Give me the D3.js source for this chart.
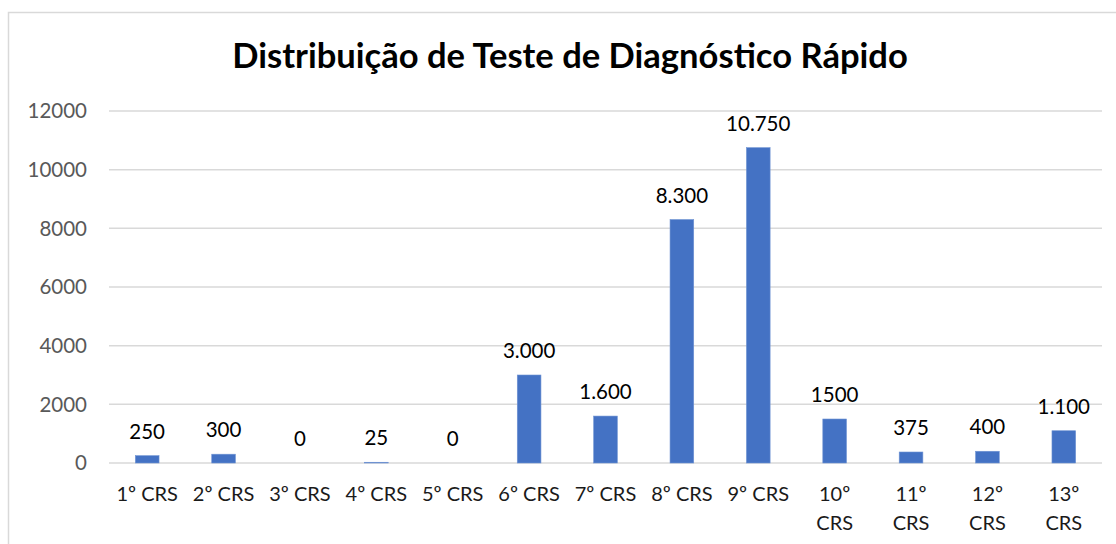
<!DOCTYPE html>
<html>
<head>
  <meta charset="utf-8">
  <title>Distribuição de Teste de Diagnóstico Rápido</title>
  <script src="https://d3js.org/d3.v7.min.js"></script>
  <style>
    body { margin: 0; background: #fff; }
    text { font-family: Lato, "Liberation Sans", sans-serif; }
    .grid line { stroke: #d9d9d9; stroke-width: 1.5px; }
    .ytick { fill: #595959; font-size: 20.5px; }
    .xtick { fill: #1a1a1a; font-size: 20px; }
    .lbl { fill: #000; font-size: 20.5px; }
  </style>
</head>
<body>
  <svg id="chart" width="1116" height="544"></svg>
  <script>
    // dados
    var categories = ["1º CRS", "2º CRS", "3º CRS", "4º CRS", "5º CRS", "6º CRS", "7º CRS",
                      "8º CRS", "9º CRS", "10º CRS", "11º CRS", "12º CRS", "13º CRS"];
    var values = [250, 300, 0, 25, 0, 3000, 1600, 8300, 10750, 1500, 375, 400, 1100];
    var valueLabels = ["250", "300", "0", "25", "0", "3.000", "1.600", "8.300", "10.750",
                       "1500", "375", "400", "1.100"];
    var yTicks = [0, 2000, 4000, 6000, 8000, 10000, 12000];

    var svg = d3.select('#chart');

    // moldura
    svg.append('rect')
      .attr('x', 8.5).attr('y', 12.5)
      .attr('width', 1120).attr('height', 560)
      .attr('fill', 'none').attr('stroke', '#d9d9d9').attr('stroke-width', 1.5);

    var plotL = 109, plotR = 1102, plotT = 111, plotB = 463;

    var x = d3.scaleBand().domain(categories).range([plotL, plotR]).paddingInner(0.69).paddingOuter(0.345);
    var y = d3.scaleLinear().domain([0, 12000]).range([plotB, plotT]);

    // grade
    svg.append('g').attr('class', 'grid')
      .selectAll('line').data(yTicks).enter().append('line')
      .attr('x1', plotL).attr('x2', plotR)
      .attr('y1', function (d) { return y(d); })
      .attr('y2', function (d) { return y(d); });

    svg.append('g')
      .selectAll('text').data(yTicks).enter().append('text')
      .attr('class', 'ytick')
      .attr('x', 87)
      .attr('y', function (d) { return y(d); })
      .attr('dy', '0.35em')
      .attr('text-anchor', 'end')
      .text(function (d) { return d; });

    // barras
    svg.append('g')
      .selectAll('rect').data(values).enter().append('rect')
      .attr('x', function (d, i) { return x(categories[i]); })
      .attr('width', x.bandwidth())
      .attr('y', function (d) { return y(d); })
      .attr('height', function (d) { return plotB - y(d); })
      .attr('fill', '#4472c4')
      .attr('stroke', '#6f93d3').attr('stroke-width', 0.6);

    // rótulos de dados
    svg.append('g')
      .selectAll('text').data(values).enter().append('text')
      .attr('class', 'lbl')
      .attr('x', function (d, i) { return x(categories[i]) + x.bandwidth() / 2; })
      .attr('y', function (d) { return y(d) - 24; })
      .attr('dy', '0.35em')
      .attr('text-anchor', 'middle')
      .text(function (d, i) { return valueLabels[i]; });

    // eixo x (rótulos com quebra para 10º..13º)
    var xl = svg.append('g')
      .selectAll('text').data(categories).enter().append('text')
      .attr('class', 'xtick')
      .attr('text-anchor', 'middle')
      .attr('x', function (d) { return x(d) + x.bandwidth() / 2; })
      .attr('y', 501);
    xl.each(function (d) {
      var t = d3.select(this), cx = t.attr('x');
      if (d.length > 6) {
        var parts = d.split(' ');
        t.append('tspan').attr('x', cx).text(parts[0]);
        t.append('tspan').attr('x', cx).attr('dy', 29).text(parts[1]);
      } else {
        t.text(d);
      }
    });

    // título
    var title = svg.append('text')
      .attr('x', 570).attr('y', 68)
      .attr('text-anchor', 'middle')
      .attr('font-weight', 'bold')
      .attr('font-size', 30)
      .attr('fill', '#000')
      .text('Distribuição de Teste de Diagnóstico Rápido');
    var w = title.node().getComputedTextLength();
    title.attr('font-size', 30 * 676 / w);
  </script>
</body>
</html>
